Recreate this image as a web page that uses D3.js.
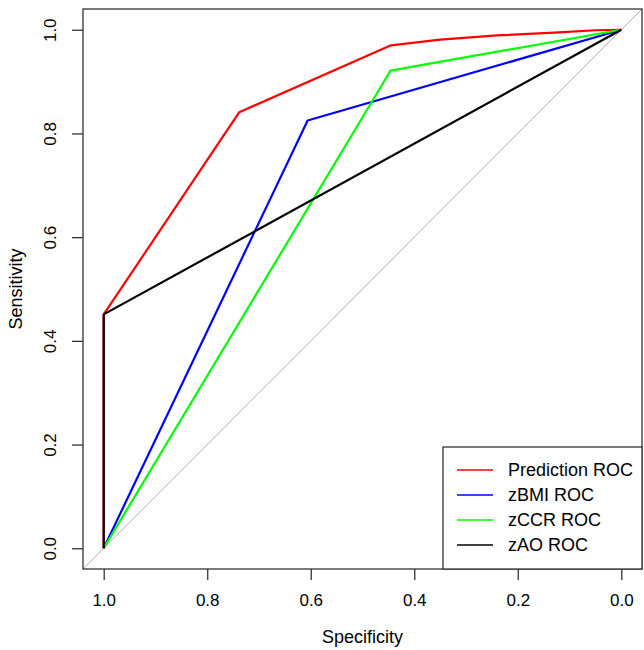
<!DOCTYPE html>
<html><head><meta charset="utf-8">
<script src="https://cdn.jsdelivr.net/npm/d3@7"></script>
<style>body{margin:0;background:#fff}svg{display:block}text{font-family:"Liberation Sans",Arial,sans-serif;fill:#000}</style>
</head><body><svg id="c" width="644" height="650"></svg>
<script>
const ticks = [1.0, 0.8, 0.6, 0.4, 0.2, 0.0];
const seriesNames = ["Prediction ROC", "zBMI ROC", "zCCR ROC", "zAO ROC"];
const seriesColors = ["#FF0000", "#0000FF", "#00FF00", "#000000"];
const predSpec = [1.0, 1.0, 0.738, 0.445, 0.35, 0.24, 0.12, 0.05, 0.0];
const predSens = [0.0, 0.451, 0.841, 0.970, 0.981, 0.989, 0.995, 0.999, 1.0];
const bmiSpec = [1.0, 0.606, 0.0];
const bmiSens = [0.0, 0.825, 1.0];
const ccrSpec = [1.0, 0.446, 0.0];
const ccrSens = [0.0, 0.921, 1.0];
const aoSpec = [1.0, 1.0, 0.0];
const aoSens = [0.0, 0.451, 1.0];

const svg = d3.select("#c");
const L = 83, R = 642, T = 9, B = 569;
const x = d3.scaleLinear().domain([1.04, -0.04]).range([L, R]);
const y = d3.scaleLinear().domain([-0.04, 1.04]).range([B, T]);

// diagonal reference
svg.append("line").attr("x1", x(1.04)).attr("y1", y(-0.04)).attr("x2", x(-0.04)).attr("y2", y(1.04))
  .attr("stroke", "#b0b0b0").attr("stroke-width", 1);

const line = d3.line().x(d => x(d[0])).y(d => y(d[1]));
const series = [[predSpec, predSens], [bmiSpec, bmiSens], [ccrSpec, ccrSens], [aoSpec, aoSens]];
series.forEach((s, i) => {
  const pts = s[0].map((v, j) => [v, s[1][j]]);
  svg.append("path").attr("d", line(pts)).attr("fill", "none")
    .attr("stroke", seriesColors[i]).attr("stroke-width", 2.2).attr("stroke-linejoin", "round");
});

// box
svg.append("rect").attr("x", L).attr("y", T).attr("width", R - L).attr("height", B - T)
  .attr("fill", "none").attr("stroke", "#333").attr("stroke-width", 1.3);

// x axis
const gx = svg.append("g").attr("transform", `translate(0,${B})`)
  .call(d3.axisBottom(x).tickValues(ticks).tickSize(11).tickPadding(14).tickFormat(d3.format(".1f")));
gx.select(".domain").remove();
gx.selectAll("line").attr("stroke", "#333").attr("stroke-width", 1.3);
gx.selectAll("text").attr("font-size", 17).attr("font-family", '"Liberation Sans",Arial,sans-serif');

// y axis
const gy = svg.append("g").attr("transform", `translate(${L},0)`)
  .call(d3.axisLeft(y).tickValues(ticks).tickSize(11).tickFormat(d3.format(".1f")));
gy.select(".domain").remove();
gy.selectAll("line").attr("stroke", "#333").attr("stroke-width", 1.3);
gy.selectAll("text").attr("font-size", 17).attr("font-family", '"Liberation Sans",Arial,sans-serif')
  .attr("x", null).attr("text-anchor", "middle")
  .attr("transform", "translate(-33,0) rotate(-90)").attr("dy", "0.35em");

// axis titles
svg.append("text").attr("x", (L + R) / 2).attr("y", 643).attr("text-anchor", "middle")
  .attr("font-size", 18).text("Specificity");
svg.append("text").attr("transform", `translate(22,${(T + B) / 2}) rotate(-90)`).attr("text-anchor", "middle")
  .attr("font-size", 18).text("Sensitivity");

// legend
const lg = svg.append("g");
lg.append("rect").attr("x", 443).attr("y", 447).attr("width", R - 443).attr("height", B - 447)
  .attr("fill", "#fff").attr("stroke", "#333").attr("stroke-width", 1.3);
seriesNames.forEach((n, i) => {
  const yy = 470 + i * 25;
  lg.append("line").attr("x1", 457).attr("x2", 493).attr("y1", yy).attr("y2", yy)
    .attr("stroke", seriesColors[i]).attr("stroke-width", 1.3);
  lg.append("text").attr("x", 508).attr("y", yy).attr("dy", "0.35em").attr("font-size", 18).text(n);
});
</script></body></html>
